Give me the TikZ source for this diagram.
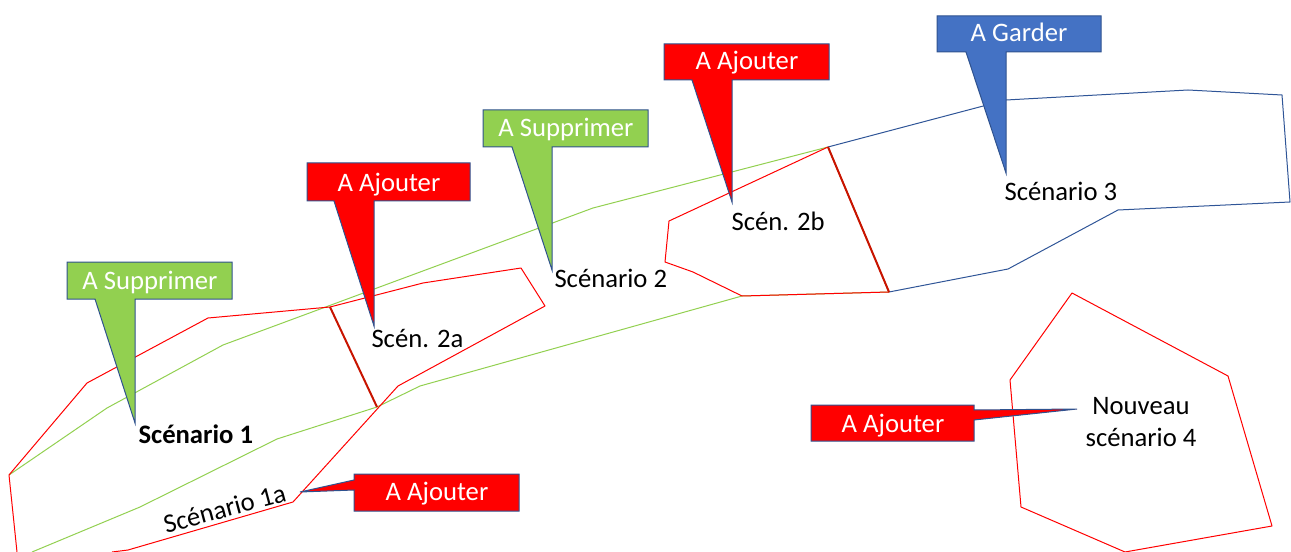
\documentclass[tikz,border=0pt]{standalone}
\usepackage{fontspec}
\setmainfont{Carlito}
\newcommand{\lbfont}{\fontsize{20}{24}\selectfont}

\tikzset{every picture/.style={line width=0.75pt}}
\tikzset{
  zonerouge/.style={color={rgb, 255:red, 255; green, 0; blue, 0 }, line join=round},
  zoneverte/.style={color={rgb, 255:red, 146; green, 208; blue, 80 }, line join=round},
  zonebleue/.style={color={rgb, 255:red, 47; green, 85; blue, 151 }, line join=round},
  coupure/.style={color={rgb, 255:red, 200; green, 20; blue, 0 }, line width=1.5},
  bulle/.style={draw={rgb, 255:red, 47; green, 82; blue, 143 }, line width=0.75, line join=miter},
  bullerouge/.style={bulle, fill={rgb, 255:red, 255; green, 0; blue, 0 }},
  bulleverte/.style={bulle, fill={rgb, 255:red, 146; green, 208; blue, 80 }},
  bullebleue/.style={bulle, fill={rgb, 255:red, 68; green, 114; blue, 196 }},
  etiq/.style={inner sep=0.75pt, font=\lbfont, text=white, anchor=base},
  scen/.style={inner sep=0.75pt, font=\lbfont, anchor=base west},
}

\begin{document}
\begin{tikzpicture}[x=0.75pt,y=0.75pt,yscale=-1,xscale=1]
\useasboundingbox (0,0) rectangle (1291,552);

%Shape: Polygon [zone verte]
\draw [zoneverte] (9,475) -- (107,408) -- (223,345) -- (593,208) -- (828,147) -- (889,292) -- (742,296) -- (420,386) -- (377,407) -- (277,439) -- (140,507) -- (32,552) ;
%Shape: Polygon [scenario 1 / 2a]
\draw [zonerouge] (17,552) -- (9,475) -- (87,383) -- (208,318) -- (330,307) -- (423,283) -- (521,268) -- (545,306) -- (398,386) -- (293,502) -- (128,550) -- (112,552) ;
%Shape: Polygon [scen. 2b]
\draw [zonerouge] (828,147) -- (889,292) -- (742,296) -- (693,272) -- (665,262) -- (669,221) -- cycle ;
%Shape: Polygon [scenario 3]
\draw [zonebleue] (828,147) -- (1006,100) -- (1188,90) -- (1282,95) -- (1290,202) -- (1118,210) -- (1008,269) -- (889,292) ;
%Shape: Polygon [nouveau scenario 4]
\draw [zonerouge] (1072,293) -- (1228,376) -- (1272,526) -- (1125,552) -- (1021,507) -- (1010,380) -- cycle ;
%Straight Lines [coupures]
\draw [coupure] (330,307) -- (377,407) ;
\draw [coupure] (828,147) -- (889,292) ;

% Text Node
\node [scen, font=\lbfont\bfseries] (scenA) at (137,443) {Scénario 1};
% Text Node
\node [inner sep=0.75pt, font=\lbfont, anchor=base, rotate=15] (scenAa) at (227,517) {Scénario 1a};
% Text Node
\node [scen] (scenBa) at (370,347) {Scén. 2a};
% Text Node
\node [scen] (scenB) at (553,287) {Scénario 2};
% Text Node
\node [scen] (scenBb) at (730,231) {Scén. 2b};
% Text Node
\node [scen] (scenC) at (1003,201) {Scénario 3};
% Text Node
\node [inner sep=0.75pt, font=\lbfont, align=center] (scenD) at (1141,422) {Nouveau\\scénario 4};

%Shape: Callout [pointes]
\coordinate (pA) at (scenA.north west);
\coordinate (pBa) at (374,326);
\coordinate (pB) at (552,270);
\coordinate (pBb) at (732,202);
\coordinate (pC) at (1006,173);
\coordinate (pAa) at (300,492);
\coordinate (pD) at (1077,409);

%Shape: Callout [A Supprimer 1]
\draw [bulleverte] (67,262) -- (232,262) -- (232,299) -- (135,299) -- (135,423) -- (95,299) -- (67,299) -- cycle ;
%Shape: Callout [A Ajouter 2a]
\draw [bullerouge] (307,163) -- (470,163) -- (470,201) -- (374,201) -- (pBa) -- (334,201) -- (307,201) -- cycle ;
%Shape: Callout [A Supprimer 2]
\draw [bulleverte] (483,110) -- (648,110) -- (648,147) -- (552,147) -- (pB) -- (512,147) -- (483,147) -- cycle ;
%Shape: Callout [A Ajouter 2b]
\draw [bullerouge] (664,44) -- (829,44) -- (829,80) -- (732,80) -- (pBb) -- (692,80) -- (664,80) -- cycle ;
%Shape: Callout [A Garder]
\draw [bullebleue] (937,16) -- (1101,16) -- (1101,52) -- (1006,52) -- (pC) -- (966,52) -- (937,52) -- cycle ;
%Shape: Callout [A Ajouter 1a]
\draw [bullerouge] (354,474) -- (519,474) -- (519,511) -- (354,511) -- (354,490) -- (pAa) -- (354,480) -- cycle ;
%Shape: Callout [A Ajouter 4]
\draw [bullerouge] (811,405) -- (974,405) -- (974,410) -- (pD) -- (974,420) -- (974,441) -- (811,441) -- cycle ;

% Text Node
\node [etiq] (supA) at (150,289) {A Supprimer};
% Text Node
\node [etiq] (ajBa) at (389,192) {A Ajouter};
% Text Node
\node [etiq] (supB) at (566,137) {A Supprimer};
% Text Node
\node [etiq] (ajBb) at (747,70) {A Ajouter};
% Text Node
\node [etiq] (garC) at (1019,42) {A Garder};
% Text Node
\node [etiq] (ajAa) at (437,500) {A Ajouter};
% Text Node
\node [etiq] (ajD) at (893,432) {A Ajouter};

\end{tikzpicture}
\end{document}
